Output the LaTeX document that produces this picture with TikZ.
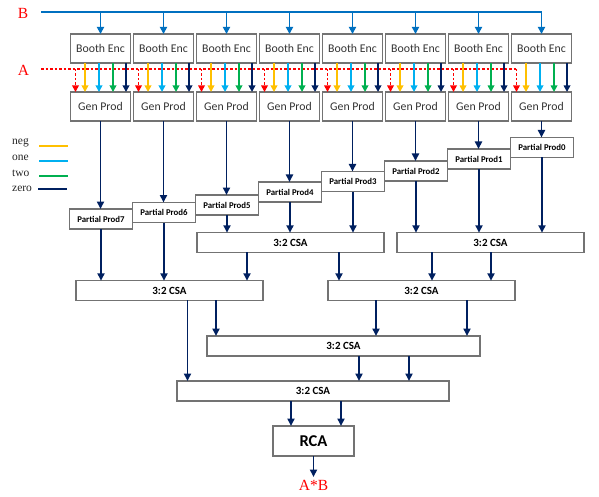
\documentclass[tikz,border=0pt]{standalone}
\usepackage{fontspec}
\setmainfont{Liberation Serif}
\newfontfamily\carl{Carlito}
\usetikzlibrary{arrows.meta,calc}
\definecolor{bblue}{RGB}{0,112,192}
\definecolor{navy}{RGB}{0,32,96}
\definecolor{ngold}{RGB}{255,192,0}
\definecolor{ncyan}{RGB}{0,176,240}
\definecolor{ngreen}{RGB}{0,176,80}
\definecolor{boxgray}{RGB}{115,115,115}
\definecolor{lbred}{RGB}{255,0,0}
\begin{document}
\begin{tikzpicture}[x=1pt,y=-1pt,
  box/.style={draw=boxgray, line width=1.2pt, fill=white, inner sep=0pt, outer sep=0pt},
  encbox/.style={box, minimum width=60pt, minimum height=29pt, font=\carl\fontsize{11.8}{12}\selectfont, text=black!80},
  ppbox/.style={box, minimum width=63pt, minimum height=20pt, font=\carl\bfseries\fontsize{8.8}{10}\selectfont},
  csabox/.style={box, minimum height=19.5pt, font=\carl\bfseries\fontsize{11}{12}\selectfont},
  nav/.style={navy, line width=1.9pt, -{Triangle[length=7.5pt,width=7pt]}},
  sarr/.style={line width=1.7pt, -{Triangle[length=6.5pt,width=6.5pt]}},
  barr/.style={bblue, line width=1.7pt, -{Triangle[length=7pt,width=7pt]}},
  bline/.style={bblue, line width=1.7pt},
  reddash/.style={lbred, line width=1.6pt, dash pattern=on 2.5pt off 2pt},
  redarr/.style={reddash, -{Triangle[length=6.5pt,width=6.5pt]}},
  lbl/.style={text=lbred, font=\fontsize{15.5}{16}\selectfont, inner sep=0pt},
  legtext/.style={font=\fontsize{11.5}{12}\selectfont, text=black!85, anchor=west, inner sep=0pt},
  legline/.style={line width=1.8pt}
]
\useasboundingbox (0,0) rectangle (599,497);

% labels
\node[lbl] (Blab) at (23,13) {B};
\node[lbl] (Alab) at (23.5,70.5) {A};

% Booth encoders and generators
\foreach \i in {0,...,7} {
  \pgfmathsetmacro\cx{100.5+63*\i}
  \node[encbox] (be\i) at (\cx,48.5) {Booth Enc};
  \node[encbox] (gp\i) at (\cx,106.5) {Gen Prod};
  \coordinate (r\i) at ([xshift=5pt]gp\i.north west);
}

% B bus
\coordinate (bstart) at (41,12);
\draw[bline] (bstart) -- (be7.north |- bstart);
\foreach \i in {0,...,7} {
  \draw[barr] (be\i.north |- bstart) -- (be\i.north);
}

% A bus
\coordinate (astart) at (41,69);
\draw[reddash] (astart) -- (r7 |- astart);
\foreach \i in {0,...,7} {
  \draw[redarr] (r\i |- astart) -- (r\i);
}

% encoder signals
\foreach \i in {0,...,7} {
  \foreach \o/\c in {14.5/ngold,28.5/ncyan,42.5/ngreen,55.5/navy} {
    \draw[sarr,\c] ([xshift=\o pt]be\i.south west) -- ([xshift=\o pt]gp\i.north west);
  }
}

% legend
\node[legtext] (lneg) at (12,143) {neg};
\node[legtext] (lone) at (12,158) {one};
\node[legtext] (ltwo) at (12,173) {two};
\node[legtext] (lzero) at (12,189) {zero};
\coordinate (l1a) at (39,146); \coordinate (l1b) at (68,146);
\coordinate (l2a) at (39,161); \coordinate (l2b) at (68,161);
\coordinate (l3a) at (39,176); \coordinate (l3b) at (68,176);
\coordinate (l4a) at (38,189); \coordinate (l4b) at (67,189);
\draw[legline,ngold] (l1a) -- (l1b);
\draw[legline,ncyan] (l2a) -- (l2b);
\draw[legline,ngreen] (l3a) -- (l3b);
\draw[legline,navy] (l4a) -- (l4b);

% partial products
\foreach \i/\y in {0/219,1/212.5,2/205,3/192,4/181.5,5/171,6/159,7/147.5} {
  \pgfmathsetmacro\px{101+63*\i}
  \pgfmathtruncatemacro\k{7-\i}
  \node[ppbox] (pp\i) at (\px,\y) {Partial Prod\k};
  \draw[nav] (gp\i.south) -- (gp\i.south |- pp\i.north);
}

% CSA tree
\node[csabox, minimum width=187pt] (csa1l) at (290.5,242.5) {3:2 CSA};
\node[csabox, minimum width=187pt] (csa1r) at (490.5,242.5) {3:2 CSA};
\node[csabox, minimum width=187pt] (csa2l) at (169.5,290.5) {3:2 CSA};
\node[csabox, minimum width=187pt] (csa2r) at (421.5,290.5) {3:2 CSA};
\node[csabox, minimum width=273pt, minimum height=20pt] (csa3) at (343.5,346) {3:2 CSA};
\node[csabox, minimum width=272pt, minimum height=20pt] (csa4) at (313,391) {3:2 CSA};
\node[box, minimum width=81pt, minimum height=30pt, font=\carl\bfseries\fontsize{16.5}{18}\selectfont] (rca) at (313.5,441) {RCA};

\foreach \i in {0,1} { \draw[nav] (pp\i.south) -- (pp\i.south |- csa2l.north); }
\foreach \i in {2,3,4} { \draw[nav] (pp\i.south) -- (pp\i.south |- csa1l.north); }
\foreach \i in {5,6,7} { \draw[nav] (pp\i.south) -- (pp\i.south |- csa1r.north); }

\foreach \n/\xx in {a/247,b/339,c/432,d/491,e/216,f/187.5,g/376,h/467,i/359,j/409,k/291,l/341} {
  \coordinate (col\n) at (\xx,0);
}
\draw[nav] (csa1l.south -| cola) -- (csa2l.north -| cola);
\draw[nav] (csa1l.south -| colb) -- (csa2r.north -| colb);
\draw[nav] (csa1r.south -| colc) -- (csa2r.north -| colc);
\draw[nav] (csa1r.south -| cold) -- (csa2r.north -| cold);
\draw[nav] (csa2l.south -| cole) -- (csa3.north -| cole);
\draw[nav] (csa2l.south -| colf) -- (csa4.north -| colf);
\draw[nav] (csa2r.south -| colg) -- (csa3.north -| colg);
\draw[nav] (csa2r.south -| colh) -- (csa3.north -| colh);
\draw[nav] (csa3.south -| coli) -- (csa4.north -| coli);
\draw[nav] (csa3.south -| colj) -- (csa4.north -| colj);
\draw[nav] (csa4.south -| colk) -- (rca.north -| colk);
\draw[nav] (csa4.south -| coll) -- (rca.north -| coll);

\coordinate (out) at (313.5,477);
\draw[nav] (rca.south) -- (out);
\node[lbl, anchor=north] (AB) at (313.5,480) {A*B};
\end{tikzpicture}
\end{document}
